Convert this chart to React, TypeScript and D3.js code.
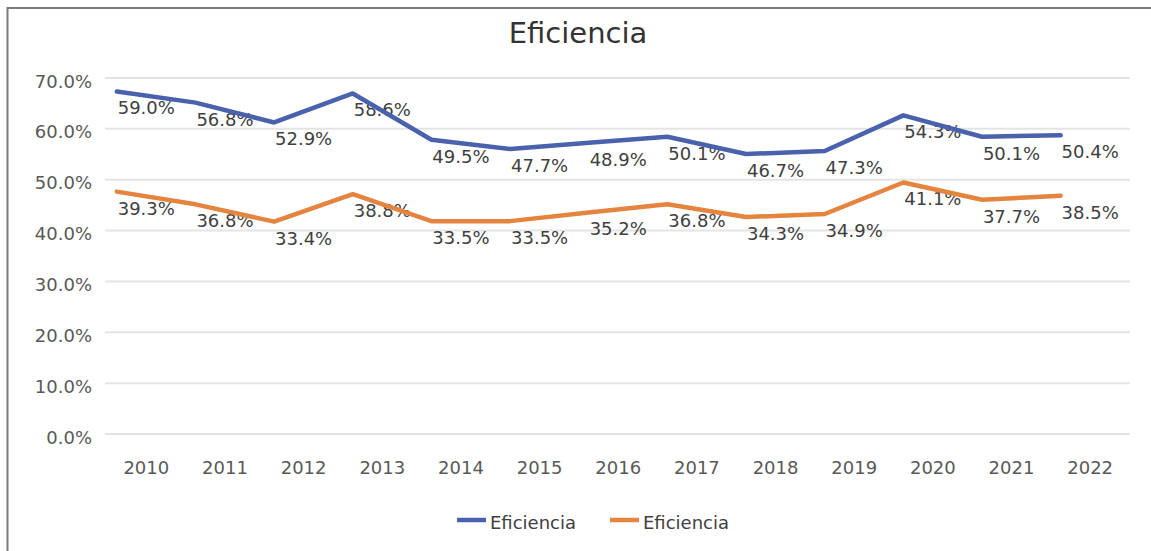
import * as d3 from "d3";

const years = ["2010", "2011", "2012", "2013", "2014", "2015", "2016", "2017", "2018", "2019", "2020", "2021", "2022"];
const eficienciaAzul = [59.0, 56.8, 52.9, 58.6, 49.5, 47.7, 48.9, 50.1, 46.7, 47.3, 54.3, 50.1, 50.4];
const eficienciaNaranja = [39.3, 36.8, 33.4, 38.8, 33.5, 33.5, 35.2, 36.8, 34.3, 34.9, 41.1, 37.7, 38.5];
const yTicks = [0, 10, 20, 30, 40, 50, 60, 70];
const seriesNames = ["Eficiencia", "Eficiencia"];
const seriesColors = ["#4a62ad", "#e5843f"];

const width = 1151;
const height = 551;
const font = "DejaVu Sans, sans-serif";

export default function App() {
  const x = d3.scaleBand<string>().domain(years).range([107, 1129.5]);
  const y = d3.scaleLinear().domain([0, 70]).range([434, 78]);
  const cx = (yr: string) => (x(yr) as number) + x.bandwidth() / 2;

  // the drawn lines sit shifted up/left of the labels, as in the original picture
  const lineShift = { dx: -29.5, dy: -42.5 };

  const line = d3
    .line<number>()
    .x((_, i) => cx(years[i]))
    .y((d) => y(d));

  const series = [eficienciaAzul, eficienciaNaranja];

  return (
    <svg width={width} height={height} style={{ position: "absolute", left: 0, top: 0, background: "#fff" }}>
      <rect width={width} height={height} fill="#fff" />
      {/* frame */}
      <line x1={7.5} x2={width} y1={8} y2={8} stroke="#7a7a7a" strokeWidth={2} />
      <line x1={7.5} x2={7.5} y1={7} y2={height} stroke="#7a7a7a" strokeWidth={2} />

      <text x={578} y={43} textAnchor="middle" fontFamily={font} fontSize={29} fill="#333">
        Eficiencia
      </text>

      {/* gridlines + y ticks */}
      {yTicks.map((t) => (
        <g key={t}>
          <line x1={105} x2={1130} y1={y(t)} y2={y(t)} stroke="#e4e4e4" strokeWidth={2} />
          <text x={92} y={y(t) + 9.5} textAnchor="end" fontFamily={font} fontSize={18} fill="#595959">
            {t.toFixed(1)}%
          </text>
        </g>
      ))}

      {/* x labels */}
      {years.map((yr) => (
        <text key={yr} x={cx(yr)} y={474} textAnchor="middle" fontFamily={font} fontSize={18} fill="#595959">
          {yr}
        </text>
      ))}

      {/* data labels */}
      {series.map((s, si) => (
        <g key={si}>
          {s.map((v, i) => (
            <text
              key={i}
              x={cx(years[i])}
              y={y(v) - 19.5}
              textAnchor="middle"
              fontFamily={font}
              fontSize={18}
              fill="#404040"
            >
              {v.toFixed(1)}%
            </text>
          ))}
        </g>
      ))}

      {/* lines */}
      <g transform={`translate(${lineShift.dx},${lineShift.dy})`}>
        {series.map((s, si) => (
          <path
            key={si}
            d={line(s) as string}
            fill="none"
            stroke={seriesColors[si]}
            strokeWidth={4.5}
            strokeLinejoin="round"
            strokeLinecap="round"
          />
        ))}
      </g>

      {/* legend */}
      {seriesNames.map((name, i) => {
        const lx = 457 + i * 153;
        return (
          <g key={i}>
            <line x1={lx} x2={lx + 29} y1={520} y2={520} stroke={seriesColors[i]} strokeWidth={4.5} />
            <text x={lx + 33} y={529} fontFamily={font} fontSize={18} fill="#404040">
              {name}
            </text>
          </g>
        );
      })}
    </svg>
  );
}
